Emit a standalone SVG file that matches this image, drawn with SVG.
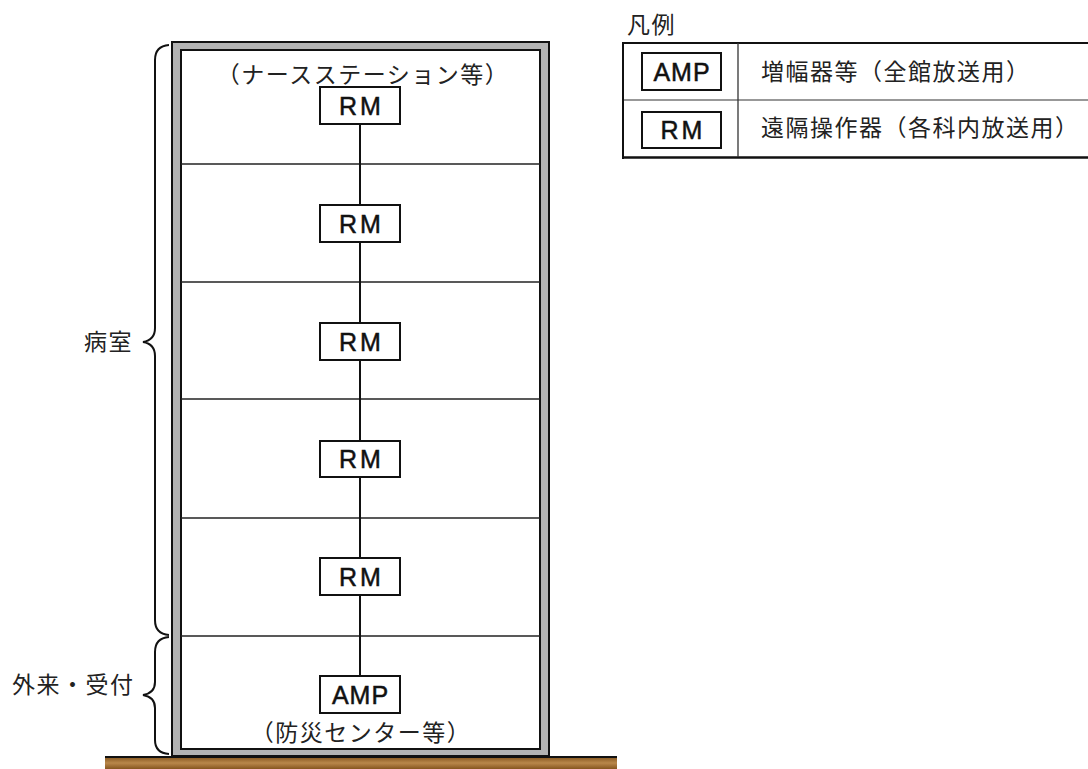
<svg xmlns="http://www.w3.org/2000/svg" width="1088" height="769" viewBox="0 0 1088 769">
<defs>
<linearGradient id="ground" x1="0" y1="0" x2="0" y2="1">
<stop offset="0" stop-color="#86561f"/>
<stop offset="0.5" stop-color="#b9874a"/>
<stop offset="1" stop-color="#86561f"/>
</linearGradient>
<style>
.jp{font-family:"Noto Sans CJK JP","Noto Sans",sans-serif;font-size:23px;fill:#222;letter-spacing:1.5px}
.lbl{font-family:"Liberation Sans",Arial,sans-serif;font-size:25px;fill:#111;stroke:#111;stroke-width:0.5;text-anchor:middle}
.rm{letter-spacing:3px}
.amp{letter-spacing:1px}
.box{fill:#fff;stroke:#111;stroke-width:2}
.wire{stroke:#111;stroke-width:2;fill:none}
.floor{stroke:#222;stroke-width:1.3}
.brace{fill:none;stroke:#111;stroke-width:2}
</style>
</defs>
<rect width="1088" height="769" fill="#fff"/>
<g id="ground-bar">
<rect x="105" y="757" width="512" height="12" fill="url(#ground)"/>
<line x1="105" y1="757" x2="617" y2="757" stroke="#111" stroke-width="2"/>
</g>
<g id="building">
<rect x="172" y="42" width="377" height="714" fill="#b3b3b3" stroke="#111" stroke-width="2"/>
<rect x="181" y="50" width="359" height="699" fill="#fff" stroke="#111" stroke-width="2"/>
<line class="floor" x1="181" y1="164" x2="540" y2="164" stroke-width="2"/>
<line class="floor" x1="181" y1="282" x2="540" y2="282"/>
<line class="floor" x1="181" y1="399" x2="540" y2="399"/>
<line class="floor" x1="181" y1="518" x2="540" y2="518"/>
<line class="floor" x1="181" y1="636" x2="540" y2="636" stroke-width="2"/>
</g>
<g id="connectors">
<line class="wire" x1="360" y1="124" x2="360" y2="676"/>
</g>
<g id="top-label"><text class="jp" x="363" y="83" text-anchor="middle">（ナースステーション等）</text></g>
<g id="rm1"><rect class="box" x="320" y="87" width="80" height="37"/><text class="lbl rm" x="361.5" y="114.5">RM</text></g>
<g id="rm2"><rect class="box" x="320" y="205" width="80" height="37"/><text class="lbl rm" x="361.5" y="232.5">RM</text></g>
<g id="rm3"><rect class="box" x="320" y="323" width="80" height="37"/><text class="lbl rm" x="361.5" y="350.5">RM</text></g>
<g id="rm4"><rect class="box" x="320" y="441" width="80" height="36"/><text class="lbl rm" x="361.5" y="468">RM</text></g>
<g id="rm5"><rect class="box" x="320" y="558" width="80" height="37"/><text class="lbl rm" x="361.5" y="585.5">RM</text></g>
<g id="amp"><rect class="box" x="320" y="676" width="80" height="37"/><text class="lbl amp" x="360.5" y="703.5">AMP</text></g>
<g id="bottom-label"><text class="jp" x="361" y="741" text-anchor="middle">（防災センター等）</text></g>
<g id="brace-wards">
<path class="brace" d="M169,45 Q155,46 155,60 L155,328 Q155,340 143,342 Q155,344 155,356 L155,620 Q155,634 169,635"/>
<text class="jp" x="84" y="350">病室</text>
</g>
<g id="brace-outpatient">
<path class="brace" d="M169,637 Q155,638 155,652 L155,682 Q155,693 143,695 Q155,697 155,708 L155,740 Q155,753 169,754"/>
<text class="jp" x="12" y="693">外来・受付</text>
</g>
<g id="legend">
<text class="jp" x="627" y="33">凡例</text>
<line x1="623" y1="43" x2="1088" y2="43" stroke="#111" stroke-width="2"/>
<line x1="623" y1="100" x2="1088" y2="100" stroke="#333" stroke-width="1.2"/>
<line x1="623" y1="157.5" x2="1088" y2="157.5" stroke="#111" stroke-width="2.5"/>
<line x1="623" y1="42" x2="623" y2="159" stroke="#111" stroke-width="2"/>
<line x1="738" y1="43" x2="738" y2="157" stroke="#333" stroke-width="1.3"/>
<rect class="box" x="642" y="53" width="79" height="37" stroke-width="2.4"/>
<text class="lbl amp" x="682" y="80.5">AMP</text>
<rect class="box" x="642" y="112" width="79" height="36" stroke-width="2.2"/>
<text class="lbl rm" x="683" y="139">RM</text>
<text class="jp" x="761" y="80">増幅器等（全館放送用）</text>
<text class="jp" x="761" y="136">遠隔操作器（各科内放送用）</text>
</g>
</svg>
